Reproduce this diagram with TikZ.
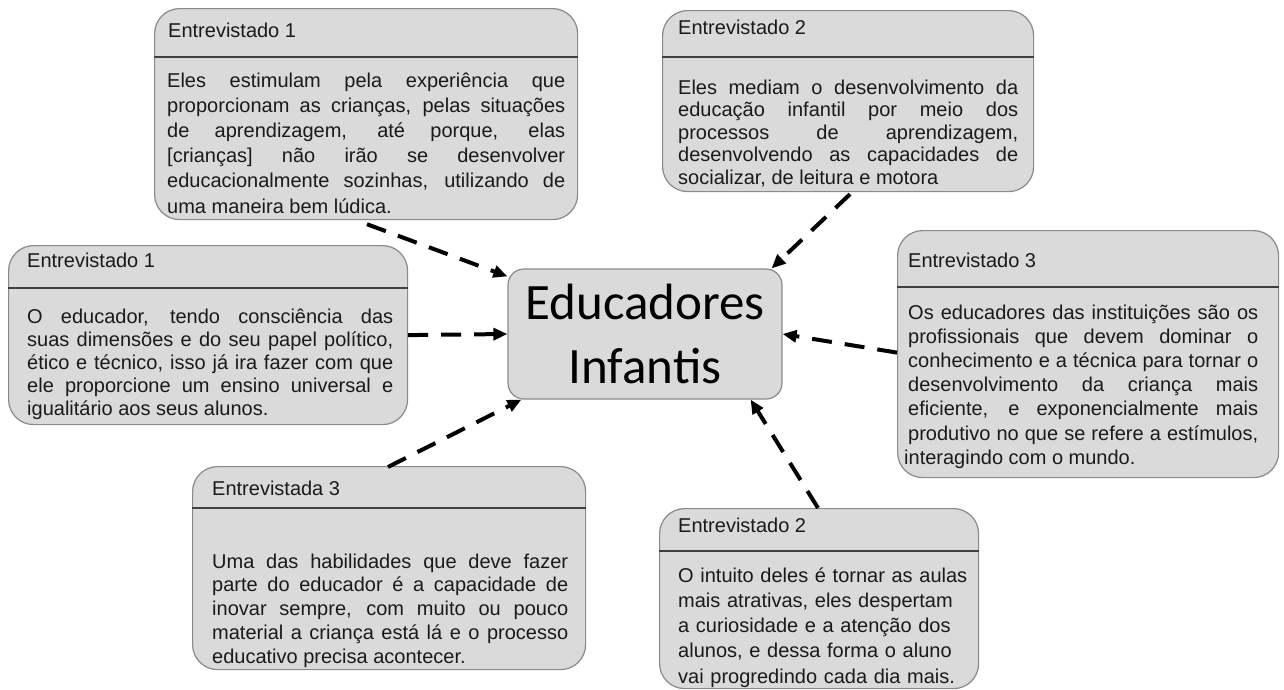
\documentclass[tikz,border=0pt]{standalone}
\usepackage{fontspec}
\setmainfont{Liberation Sans}
\newfontfamily\centerfont{Carlito}
\usetikzlibrary{arrows.meta,calc}
\definecolor{boxfill}{HTML}{DADADA}
\definecolor{boxline}{HTML}{8A8A8A}
\definecolor{divline}{HTML}{404040}
\definecolor{txt}{HTML}{1A1A1A}
\newcommand\jline[1]{\makebox[\linewidth][s]{#1}}
\begin{document}
\begin{tikzpicture}[x=1pt,y=-1pt,
  card/.style={draw=boxline, fill=boxfill, line width=1.2pt, rounded corners=25pt, anchor=north west, inner sep=0pt},
  divider/.style={draw=divline, line width=2.6pt},
  head/.style={anchor=base west, inner sep=0pt, text=txt, font=\fontsize{20}{24}\selectfont},
  body/.style={anchor=base west, inner sep=0pt, text=txt, align=justify},
  link/.style={draw=black, line width=4pt, dash pattern=on 20pt off 13pt, -{Triangle[length=14pt,width=12pt]}},
]
\useasboundingbox (0,0) rectangle (1284,689);

% center node
\node[draw=boxline, fill=boxfill, line width=1.2pt, rounded corners=16pt, minimum width=274pt, minimum height=130pt, inner sep=0pt, align=center, text=black, font=\centerfont\fontsize{51}{64}\selectfont] (c) at (645,334) {Educadores\\Infantis};

% box 1
\node[card, minimum width=423pt, minimum height=211pt] (b1) at (154,8) {};
\draw[divider] ($(b1.north west)+(0,49)$) -- ($(b1.north east)+(0,49)$);
\node[head] (h1) at ($(b1.north west)+(14,29)$) {Entrevistado 1};
\node[body, text width=398pt, font=\fontsize{20}{25.2}\selectfont] (t1) at ($(b1.north west)+(13,79)$) {%
\jline{Eles estimulam pela experiência que}\\
\jline{proporcionam as crianças, pelas situações}\\
\jline{de aprendizagem, até porque, elas}\\
\jline{[crianças] não irão se desenvolver}\\
\jline{educacionalmente sozinhas, utilizando de}\\
uma maneira bem lúdica.};

% box 2
\node[card, minimum width=371pt, minimum height=181pt] (b2) at (662,10) {};
\draw[divider] ($(b2.north west)+(0,47)$) -- ($(b2.north east)+(0,47)$);
\node[head] (h2) at ($(b2.north west)+(16,24)$) {Entrevistado 2};
\node[body, text width=340pt, font=\fontsize{20}{22.5}\selectfont] (t2) at ($(b2.north west)+(16,84)$) {%
\jline{Eles mediam o desenvolvimento da}\\
\jline{educação infantil por meio dos}\\
\jline{processos de aprendizagem,}\\
\jline{desenvolvendo as capacidades de}\\
socializar, de leitura e motora};

% box 3
\node[card, minimum width=399pt, minimum height=179pt] (b3) at (8,245) {};
\draw[divider] ($(b3.north west)+(0,43)$) -- ($(b3.north east)+(0,43)$);
\node[head] (h3) at ($(b3.north west)+(19,22)$) {Entrevistado 1};
\node[body, text width=366pt, font=\fontsize{20}{23}\selectfont] (t3) at ($(b3.north west)+(19,78)$) {%
\jline{O educador, tendo consciência das}\\
\jline{suas dimensões e do seu papel político,}\\
\jline{ético e técnico, isso já ira fazer com que}\\
\jline{ele proporcione um ensino universal e}\\
igualitário aos seus alunos.};

% box 4
\node[card, minimum width=381pt, minimum height=247pt] (b4) at (897,230) {};
\draw[divider] ($(b4.north west)+(0,57)$) -- ($(b4.north east)+(0,57)$);
\node[head] (h4) at ($(b4.north west)+(11,37)$) {Entrevistado 3};
\node[body, text width=350pt, font=\fontsize{20}{24.2}\selectfont] (t4) at ($(b4.north west)+(11,89)$) {%
\jline{Os educadores das instituições são os}\\
\jline{profissionais que devem dominar o}\\
\jline{conhecimento e a técnica para tornar o}\\
\jline{desenvolvimento da criança mais}\\
\jline{eficiente, e exponencialmente mais}\\
\jline{produtivo no que se refere a estímulos,}\\
\hspace*{-4pt}interagindo com o mundo.};

% box 5
\node[card, minimum width=393pt, minimum height=203pt] (b5) at (192,466) {};
\draw[divider] ($(b5.north west)+(0,42)$) -- ($(b5.north east)+(0,42)$);
\node[head] (h5) at ($(b5.north west)+(20,29)$) {Entrevistada 3};
\node[body, text width=356pt, font=\fontsize{20}{23.75}\selectfont] (t5) at ($(b5.north west)+(20,102)$) {%
\jline{Uma das habilidades que deve fazer}\\
\jline{parte do educador é a capacidade de}\\
\jline{inovar sempre, com muito ou pouco}\\
\jline{material a criança está lá e o processo}\\
educativo precisa acontecer.};

% box 6
\node[card, minimum width=319pt, minimum height=180pt] (b6) at (659,508) {};
\draw[divider] ($(b6.north west)+(0,43)$) -- ($(b6.north east)+(0,43)$);
\node[head] (h6) at ($(b6.north west)+(19,24)$) {Entrevistado 2};
\node[body, align=left, text width=295pt, font=\fontsize{20}{25.25}\selectfont] (t6) at ($(b6.north west)+(19,74)$) {%
O intuito deles é tornar as aulas\\
mais atrativas, eles despertam\\
a curiosidade e a atenção dos\\
alunos, e dessa forma o aluno\\
vai progredindo cada dia mais.};

% connectors
\draw[link] ($(b1.south west)+(213,4)$) -- ($(c.north west)+(0,8)$);
\draw[link] ($(b2.south west)+(188,2)$) -- ($(c.north east)+(-11,0)$);
\draw[link] (b3.east) -- (c.west);
\draw[link] ($(b4.west)+(0,-1.5)$) -- (c.east);
\draw[link] ($(b5.north west)+(196,1)$) -- ($(c.south west)+(14,0)$);
\draw[link] ($(b6.north west)+(159,0)$) -- ($(c.south east)+(-32,0)$);
\end{tikzpicture}
\end{document}
